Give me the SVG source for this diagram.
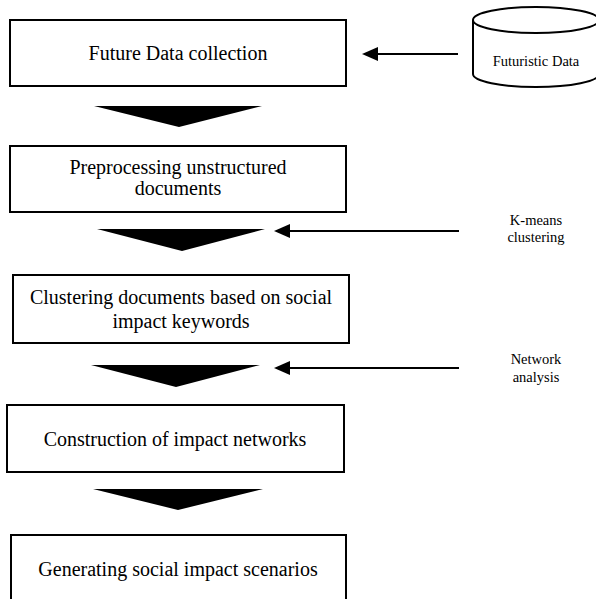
<svg xmlns="http://www.w3.org/2000/svg" width="596" height="599" viewBox="0 0 596 599">
<defs>
<style>
.box{fill:#fff;stroke:#000;stroke-width:2}
.t{font-family:"Liberation Serif",serif;font-size:20px;fill:#000;text-anchor:middle}
.s{font-family:"Liberation Serif",serif;font-size:14.5px;fill:#000;text-anchor:middle}
.tri{fill:#000}
.ln{stroke:#000;stroke-width:2;fill:none}
</style>
</defs>
<rect width="596" height="599" fill="#fff"/>
<g id="n1"><rect class="box" x="10" y="20" width="336" height="66"/><text class="t" x="178" y="60">Future Data collection</text></g>
<g id="n2"><rect class="box" x="10" y="146" width="336" height="66"/><text class="t" x="178" y="174">Preprocessing unstructured</text><text class="t" x="178" y="195">documents</text></g>
<g id="n3"><rect class="box" x="13" y="275" width="336" height="68"/><text class="t" x="181" y="304">Clustering documents based on social</text><text class="t" x="181" y="328">impact keywords</text></g>
<g id="n4"><rect class="box" x="7" y="405" width="337" height="67"/><text class="t" x="175" y="446">Construction of impact networks</text></g>
<g id="n5"><rect class="box" x="11" y="535" width="335" height="80"/><text class="t" x="178" y="576">Generating social impact scenarios</text></g>
<g id="db"><path class="ln" d="M473,20 L473,74 A63,13 0 0 0 599,74 L599,20"/><ellipse cx="536" cy="20" rx="63" ry="13" fill="#fff" stroke="#000" stroke-width="2"/><text class="s" x="536" y="66">Futuristic Data</text></g>
<g id="lbl1"><text class="s" x="536" y="225">K-means</text><text class="s" x="536" y="242">clustering</text></g>
<g id="lbl2"><text class="s" x="536" y="364">Network</text><text class="s" x="536" y="382">analysis</text></g>
<g id="connectors">
<polygon class="tri" points="94,106 262,106 179,127"/>
<polygon class="tri" points="97,229 265,229 182,251"/>
<polygon class="tri" points="91,365 260,365 176,387"/>
<polygon class="tri" points="93,489 263,489 178,510"/>
<line class="ln" x1="458" y1="54" x2="375" y2="54"/>
<polygon class="tri" points="362,54 378,47 378,61"/>
<line class="ln" x1="459" y1="231" x2="287" y2="231"/>
<polygon class="tri" points="274,231 290,224 290,238"/>
<line class="ln" x1="459" y1="368" x2="287" y2="368"/>
<polygon class="tri" points="274,368 290,361 290,375"/>
</g>
</svg>
